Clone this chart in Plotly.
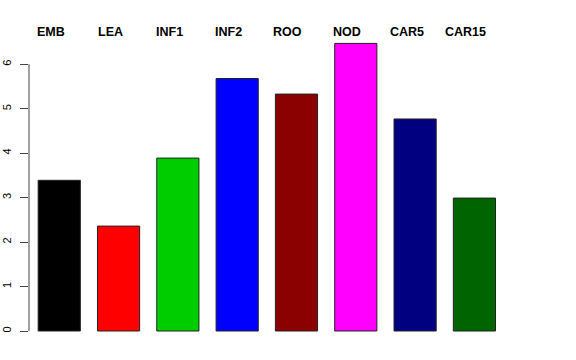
import plotly.graph_objects as go

categories = ["EMB", "LEA", "INF1", "INF2", "ROO", "NOD", "CAR5", "CAR15"]
values = [3.39, 2.36, 3.89, 5.68, 5.33, 6.47, 4.77, 2.99]
colors = ["#000000", "#FF0000", "#00CD00", "#0000FF", "#8B0000", "#FF00FF", "#000080", "#006400"]
y_ticks = [0, 1, 2, 3, 4, 5, 6]

xpos = list(range(len(categories)))

fig = go.Figure()
fig.add_trace(go.Bar(
    x=xpos, y=values, width=0.711,
    marker=dict(color=colors, line=dict(color="#222222", width=1)),
    hoverinfo="skip",
))

for i, c in enumerate(categories):
    fig.add_annotation(x=xpos[i], y=6.72, xref="x", yref="y", text=c,
                       showarrow=False, xshift=-8.5, yanchor="middle",
                       font=dict(family="Liberation Sans, Arial, sans-serif", size=12.5,
                                 color="black", weight="bold"))

fig.add_shape(type="line", xref="paper", yref="y", x0=0, x1=0, y0=0, y1=6,
              line=dict(color="#444444", width=1))

fig.update_layout(
    width=576, height=360,
    margin=dict(l=29, r=66, t=29, b=25, autoexpand=False),
    paper_bgcolor="white", plot_bgcolor="white",
    showlegend=False,
    xaxis=dict(range=[-0.51, 7.6], visible=False, showgrid=False, zeroline=False,
               automargin=False),
    yaxis=dict(range=[-0.09, 6.794], tickvals=y_ticks, ticktext=[str(t) for t in y_ticks],
               ticks="outside", ticklen=8, tickwidth=1, tickcolor="#444444",
               tickangle=-90, showline=False, showgrid=False, zeroline=False,
               automargin=False, ticklabelstandoff=5,
               tickfont=dict(family="Liberation Sans, Arial, sans-serif", size=11, color="black")),
)

fig.write_html("out.html", config={"displayModeBar": False},
               post_script="document.body.style.margin='0';document.body.style.overflow='hidden';")
